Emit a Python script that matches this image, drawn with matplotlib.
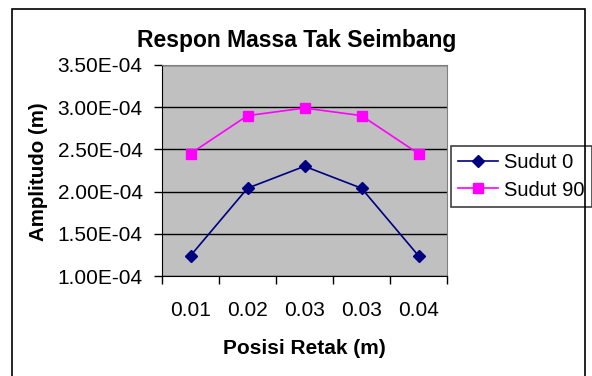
import numpy as np
import matplotlib.pyplot as plt
from matplotlib.patches import Rectangle

plt.rcParams['font.family'] = ['Liberation Sans', 'DejaVu Sans']

# --- data ---
posisi = ["0.01", "0.02", "0.03", "0.03", "0.04"]
sudut_0 = [1.24e-4, 2.04e-4, 2.30e-4, 2.04e-4, 1.24e-4]
sudut_90 = [2.45e-4, 2.90e-4, 2.99e-4, 2.90e-4, 2.45e-4]
y_ticks = [1.0e-4, 1.5e-4, 2.0e-4, 2.5e-4, 3.0e-4, 3.5e-4]

W, H = 592, 376
fig = plt.figure(figsize=(W / 100, H / 100), dpi=100)

# outer chart border (bottom edge is cut off in the reference)
fig.patches.append(Rectangle((12 / W, -0.05), (585 - 12) / W, 1 - 9 / H + 0.05,
                             transform=fig.transFigure, fill=False,
                             edgecolor='black', lw=1.2))

ax = fig.add_axes([162 / W, 1 - 276 / H, (447 - 162) / W, (276 - 65) / H])
ax.set_facecolor('#C0C0C0')

x = np.arange(len(posisi))
ax.plot(x, sudut_0, color='#000080', marker='D', markersize=6, lw=1.2,
        label='Sudut 0', zorder=3)
ax.plot(x, sudut_90, color='#FF00FF', marker='s', markersize=6.5, lw=1.2,
        label='Sudut 90', zorder=3)

ax.set_xlim(-0.5, len(posisi) - 0.5)
ax.set_ylim(y_ticks[0], y_ticks[-1])

# category axis: tick marks between categories, labels at centres
ax.set_xticks(np.arange(-0.5, len(posisi)))
ax.set_xticklabels([])
ax.set_xticks(x, minor=True)
ax.set_xticklabels(posisi, minor=True, fontsize=15)
ax.tick_params(axis='x', which='major', direction='out', length=6, width=1)
ax.tick_params(axis='x', which='minor', length=0, pad=18)

ax.set_yticks(y_ticks)
ax.set_yticklabels(['%.2fE-04' % (v * 1e4) for v in y_ticks], fontsize=15)
ax.tick_params(axis='y', direction='out', length=6, width=1, pad=8)

ax.grid(axis='y', color='black', lw=1)
ax.set_axisbelow(True)

for side in ['top', 'right']:
    ax.spines[side].set_color('#808080')
for side in ['left', 'bottom']:
    ax.spines[side].set_color('black')

fig.text(297 / W, 1 - 40 / H, 'Respon Massa Tak Seimbang',
         ha='center', va='center', fontsize=16.5, fontweight='bold')
fig.text(304 / W, 1 - 349 / H, 'Posisi Retak (m)',
         ha='center', va='center', fontsize=15, fontweight='bold')
fig.text(38 / W, 1 - 172 / H, 'Amplitudo (m)', rotation=90,
         ha='center', va='center', fontsize=14.8, fontweight='bold')

leg = ax.legend(loc='center left', bbox_to_anchor=(451 / W, 1 - 176.5 / H),
                bbox_transform=fig.transFigure, fontsize=14.5, frameon=True,
                fancybox=False, framealpha=1, edgecolor='#404040',
                handlelength=2.0, handletextpad=0.3, borderpad=0.35,
                labelspacing=0.4, borderaxespad=0)
leg.get_frame().set_linewidth(1.2)

fig.savefig('out.png', dpi=100)
